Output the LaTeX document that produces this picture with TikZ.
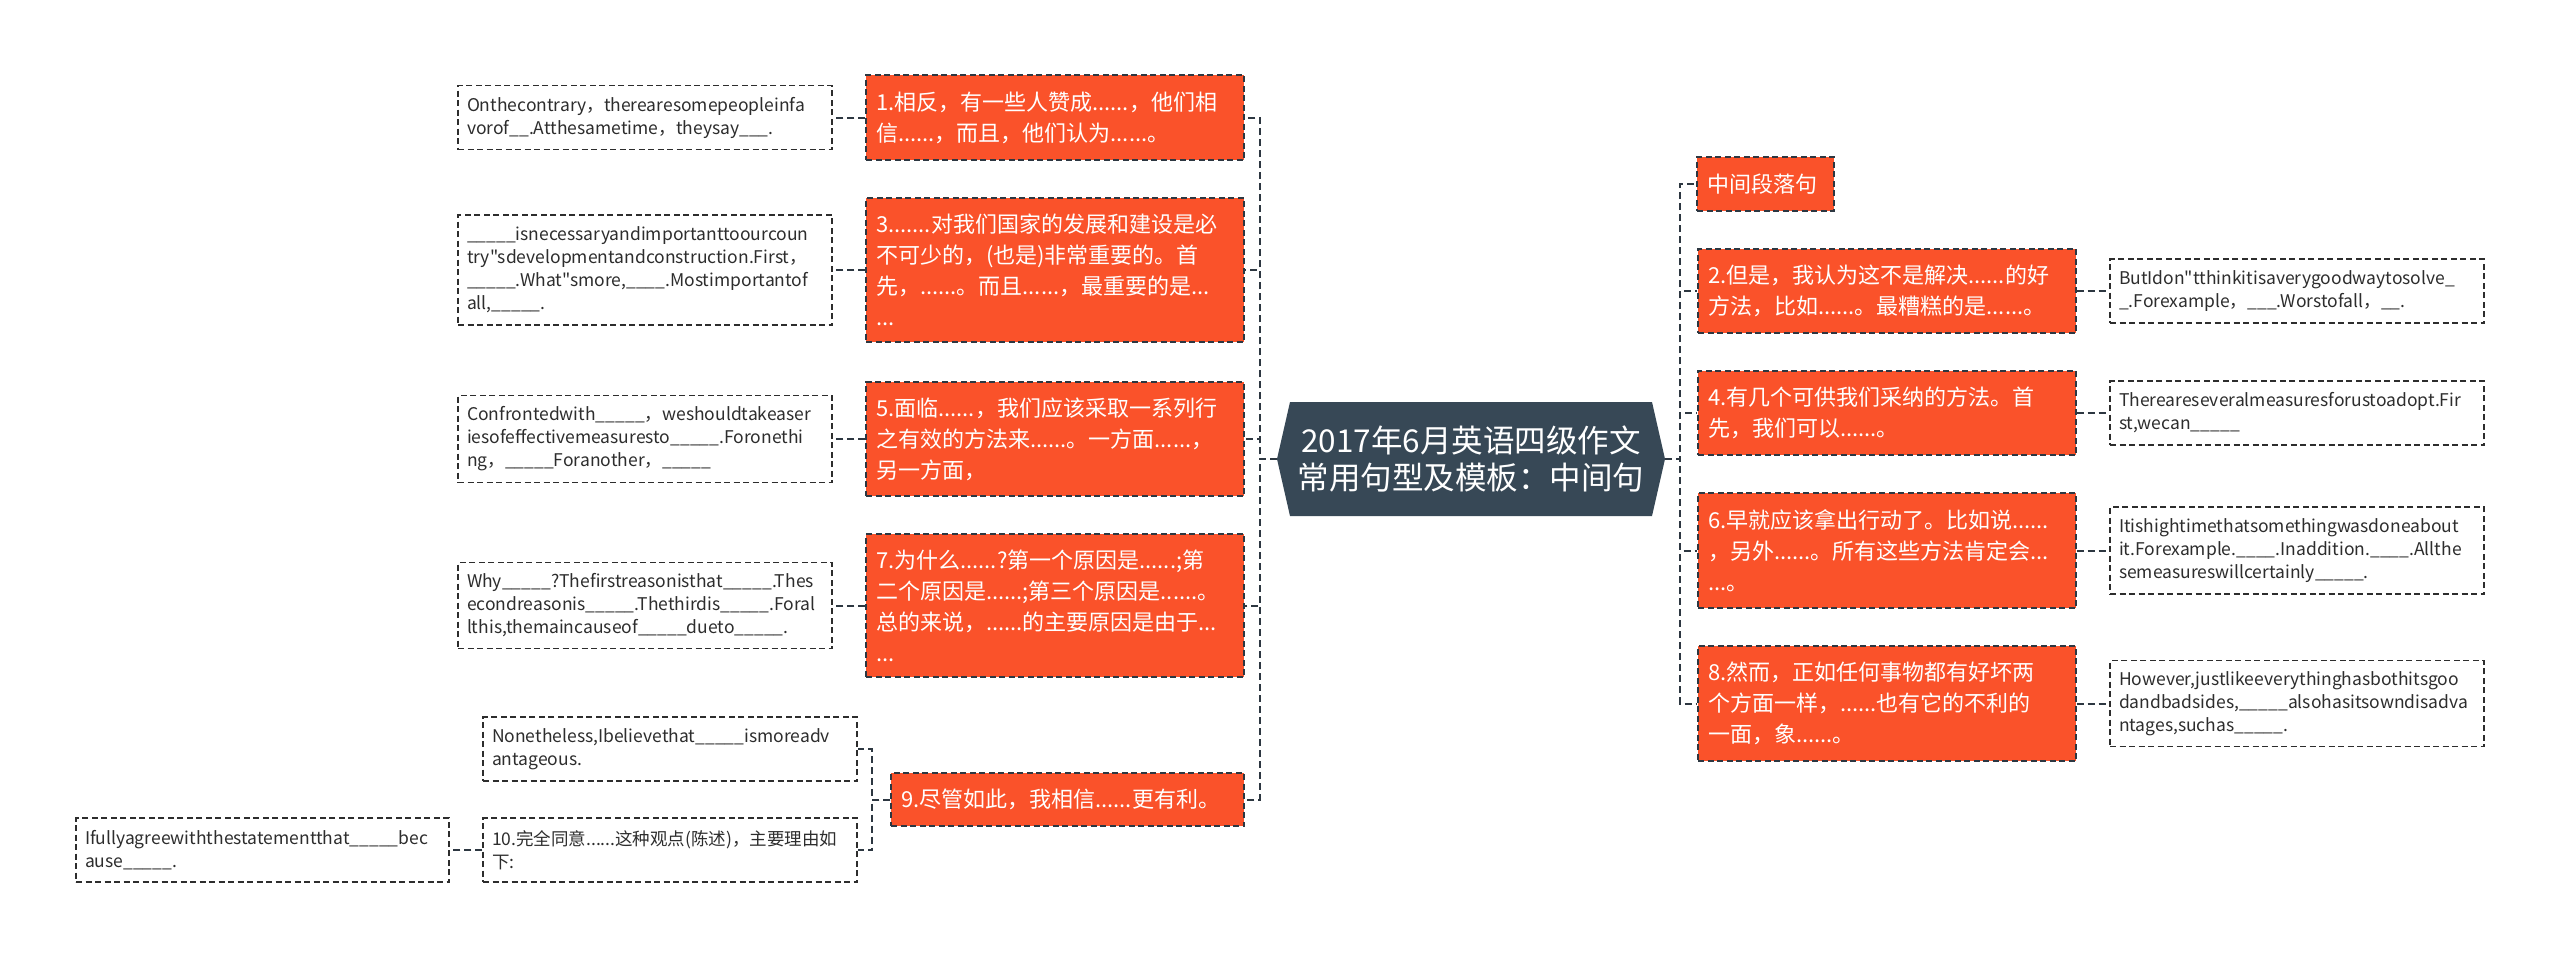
\documentclass[tikz,border=0pt]{standalone}
\usepackage{fontspec}
\setmainfont{Noto Sans CJK SC}[Ligatures=TeXOff]
\definecolor{orangebox}{RGB}{250,82,42}
\definecolor{hexcol}{RGB}{55,72,86}
\definecolor{edgecol}{RGB}{45,55,65}
\definecolor{txtdark}{RGB}{45,45,45}
\tikzset{
  obox/.style={draw=edgecol, line width=1.3pt, dash pattern=on 6pt off 3.5pt, fill=orangebox, text=white,
    inner xsep=10pt, inner ysep=0pt, font=\fontsize{22}{31}\selectfont, align=left, text width=358pt, minimum width=378pt},
  wbox/.style={draw=txtdark, line width=1.3pt, dash pattern=on 6pt off 3.5pt, fill=white, text=txtdark,
    inner xsep=9pt, inner ysep=0pt, font=\fontsize{17.5}{23}\selectfont, align=left, text width=356pt, minimum width=374pt},
  edge/.style={draw=edgecol, line width=2pt, dash pattern=on 7pt off 4pt},
}
\begin{document}
\begin{tikzpicture}[x=1pt,y=-1pt]
\fill[white] (0,0) rectangle (2560,959);
\useasboundingbox (0,0) rectangle (2560,959);
% central
\fill[hexcol] (1277,459) -- (1290,402) -- (1652,402) -- (1665,459) -- (1652,516) -- (1290,516) -- cycle;
\node[text=white, font=\fontsize{31.5}{37}\selectfont, align=center, minimum width=388pt, minimum height=114pt, inner sep=0pt] (c) at (1471,459) {2017年6月英语四级作文\\常用句型及模板：中间句};
% left orange
\node[obox, minimum height=85pt] (n1) at (1055,117.5) {1.相反，有一些人赞成......，他们相\\信......，而且，他们认为......。};
\node[obox, minimum height=144pt] (n3) at (1055,270) {3.......对我们国家的发展和建设是必\\不可少的，(也是)非常重要的。首\\先，......。而且......，最重要的是...\\...};
\node[obox, minimum height=114pt] (n5) at (1055,439) {5.面临......，我们应该采取一系列行\\之有效的方法来......。一方面......，\\另一方面，};
\node[obox, minimum height=143pt] (n7) at (1055,605.5) {7.为什么......?第一个原因是......;第\\二个原因是......;第三个原因是......。\\总的来说，......的主要原因是由于...\\...};
\node[obox, minimum height=53pt, text width=333pt, minimum width=353pt] (n9) at (1067.5,799.5) {9.尽管如此，我相信......更有利。};
% left white
\node[wbox, minimum height=64pt] (l1) at (645,117.5) {Onthecontrary，therearesomepeopleinfa\\vorof\_\_.Atthesametime，theysay\_\_\_.};
\node[wbox, minimum height=110pt] (l3) at (645,270) {\_\_\_\_\_isnecessaryandimportanttoourcoun\\try"sdevelopmentandconstruction.First，\\\_\_\_\_\_.What"smore,\_\_\_\_.Mostimportantof\\all,\_\_\_\_\_.};
\node[wbox, minimum height=87pt] (l5) at (645,439) {Confrontedwith\_\_\_\_\_，weshouldtakeaser\\iesofeffectivemeasuresto\_\_\_\_\_.Foronethi\\ng，\_\_\_\_\_Foranother，\_\_\_\_\_};
\node[wbox, minimum height=86pt] (l7) at (645,605.5) {Why\_\_\_\_\_?Thefirstreasonisthat\_\_\_\_\_.Thes\\econdreasonis\_\_\_\_\_.Thethirdis\_\_\_\_\_.Foral\\lthis,themaincauseof\_\_\_\_\_dueto\_\_\_\_\_.};
\node[wbox, minimum height=64pt] (nb) at (670,749) {Nonetheless,Ibelievethat\_\_\_\_\_ismoreadv\\antageous.};
\node[wbox, minimum height=64pt] (ten) at (670,850) {10.完全同意......这种观点(陈述)，主要理由如\\下:};
\node[wbox, minimum height=64pt, text width=355pt, minimum width=373pt] (ify) at (262.5,850) {Ifullyagreewiththestatementthat\_\_\_\_\_bec\\ause\_\_\_\_\_.};
% right orange
\node[obox, minimum height=54pt, text width=117pt, minimum width=137pt] (mid) at (1765.5,184) {中间段落句};
\node[obox, minimum height=84pt] (n2) at (1887,291) {2.但是，我认为这不是解决......的好\\方法，比如......。最糟糕的是......。};
\node[obox, minimum height=84pt] (n4) at (1887,413) {4.有几个可供我们采纳的方法。首\\先，我们可以......。};
\node[obox, minimum height=115pt] (n6) at (1887,550.5) {6.早就应该拿出行动了。比如说......\\，另外......。所有这些方法肯定会...\\...。};
\node[obox, minimum height=115pt] (n8) at (1887,703.5) {8.然而，正如任何事物都有好坏两\\个方面一样，......也有它的不利的\\一面，象......。};
% right white
\node[wbox, minimum height=64pt] (r2) at (2297,291) {ButIdon"tthinkitisaverygoodwaytosolve\_\\\_.Forexample，\_\_\_.Worstofall，\_\_.};
\node[wbox, minimum height=64pt] (r4) at (2297,413) {Thereareseveralmeasuresforustoadopt.Fir\\st,wecan\_\_\_\_\_};
\node[wbox, minimum height=87pt] (r6) at (2297,550.5) {Itishightimethatsomethingwasdoneabout\\it.Forexample.\_\_\_\_.Inaddition.\_\_\_\_.Allthe\\semeasureswillcertainly\_\_\_\_\_.};
\node[wbox, minimum height=86pt] (r8) at (2297,703.5) {However,justlikeeverythinghasbothitsgoo\\dandbadsides,\_\_\_\_\_alsohasitsowndisadva\\ntages,suchas\_\_\_\_\_.};
% edges left
\foreach \t in {n1,n3,n5,n7,n9} \draw[edge] (c.west) -- ++(-17,0) |- (\t.east);
\foreach \a/\b in {n1/l1,n3/l3,n5/l5,n7/l7,ten/ify} \draw[edge] (\a.west) -- (\b.east);
\foreach \t in {nb,ten} \draw[edge] (n9.west) -- ++(-18,0) |- (\t.east);
% edges right
\foreach \t in {mid,n2,n4,n6,n8} \draw[edge] (c.east) -- ++(15,0) |- (\t.west);
\foreach \a/\b in {n2/r2,n4/r4,n6/r6,n8/r8} \draw[edge] (\a.east) -- (\b.west);
\end{tikzpicture}
\end{document}
